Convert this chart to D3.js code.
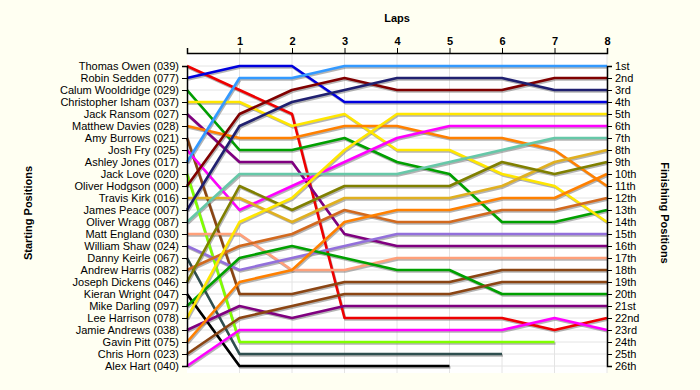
<!DOCTYPE html>
<html>
<head>
<meta charset="utf-8">
<script src="https://cdn.jsdelivr.net/npm/d3@7"></script>
<style>
  body { margin: 0; background: #fffff2; }
  text { font-family: Arial, "Liberation Sans", sans-serif; }
</style>
</head>
<body>
<div id="chart"></div>
<script>
// Drivers in starting order
const drivers = [
  "Thomas Owen (039)", "Robin Sedden (077)", "Calum Wooldridge (029)", "Christopher Isham (037)",
  "Jack Ransom (027)", "Matthew Davies (028)", "Amy Burrows (021)", "Josh Fry (025)",
  "Ashley Jones (017)", "Jack Love (020)", "Oliver Hodgson (000)", "Travis Kirk (016)",
  "James Peace (007)", "Oliver Wragg (087)", "Matt England (030)", "William Shaw (024)",
  "Danny Keirle (067)", "Andrew Harris (082)", "Joseph Dickens (046)", "Kieran Wright (047)",
  "Mike Darling (097)", "Lee Harrison (078)", "Jamie Andrews (038)", "Gavin Pitt (075)",
  "Chris Horn (023)", "Alex Hart (040)"
];

const colors = [
  "#ee0000", "#0000dd", "#00a000", "#ffe600", "#800080", "#ff8000", "#8b4513", "#ff00ff",
  "#3399ff", "#80ff00", "#800000", "#e0b020", "#202070", "#66c8a8", "#ffa07a", "#9370db",
  "#2f4f4f", "#d2691e", "#808000", "#000000", "#00a000", "#ffe600", "#800080", "#ff8000",
  "#8b4513", "#ff00ff"
];

// Position of each driver at lap 0..8 (shorter arrays = retired)
const positions = [
  [1, 3, 5, 22, 22, 22, 22, 23, 22],
  [2, 1, 1, 4, 4, 4, 4, 4, 4],
  [3, 8, 8, 7, 9, 10, 14, 14, 13],
  [4, 4, 6, 5, 8, 8, 10, 11, 14],
  [5, 9, 9, 15, 16, 16, 16, 16, 16],
  [6, 7, 7, 6, 6, 7, 7, 8, 11],
  [7, 20, 20, 19, 19, 19, 18, 18, 18],
  [8, 13, 11, 9, 7, 6, 6, 6, 6],
  [9, 2, 2, 1, 1, 1, 1, 1, 1],
  [10, 24, 24, 24, 24, 24, 24, 24],
  [11, 5, 3, 2, 3, 3, 3, 2, 2],
  [12, 12, 14, 12, 12, 12, 11, 9, 8],
  [13, 6, 4, 3, 2, 2, 2, 3, 3],
  [14, 10, 10, 10, 10, 9, 8, 7, 7],
  [15, 15, 18, 18, 17, 17, 17, 17, 17],
  [16, 18, 17, 16, 15, 15, 15, 15, 15],
  [17, 25, 25, 25, 25, 25, 25],
  [18, 16, 15, 13, 14, 14, 13, 13, 12],
  [19, 11, 13, 11, 11, 11, 9, 10, 9],
  [20, 26, 26, 26, 26, 26],
  [21, 17, 16, 17, 18, 18, 20, 20, 20],
  [22, 14, 12, 8, 5, 5, 5, 5, 5],
  [23, 21, 22, 21, 21, 21, 21, 21, 21],
  [24, 19, 18, 14, 13, 13, 12, 12, 10],
  [25, 22, 21, 20, 20, 20, 19, 19, 19],
  [26, 23, 23, 23, 23, 23, 23, 22, 23]
];

const laps = [0, 1, 2, 3, 4, 5, 6, 7, 8];
const lapLabels = ["", "1", "2", "3", "4", "5", "6", "7", "8"];
const finishLabels = [
  "1st", "2nd", "3rd", "4th", "5th", "6th", "7th", "8th", "9th", "10th", "11th", "12th", "13th",
  "14th", "15th", "16th", "17th", "18th", "19th", "20th", "21st", "22nd", "23rd", "24th", "25th", "26th"
];

const margin = { top: 53, right: 93, bottom: 17, left: 187 };
const width = 700 - margin.left - margin.right;
const height = 390 - margin.top - margin.bottom;

const svg = d3.select("#chart")
    .append("svg")
    .attr("width", 700)
    .attr("height", 390);

const g = svg.append("g")
    .attr("transform", `translate(${margin.left},${margin.top})`);

const x = d3.scaleLinear().domain([0, 8]).range([0, width]);
const y = d3.scaleLinear().domain([1, 26]).range([13, 313]);
const posList = d3.range(1, 27);

// plot background
g.append("rect")
    .attr("width", width)
    .attr("height", height)
    .attr("fill", "#ffffff");

// grid
g.selectAll(".hgrid")
    .data(posList)
    .enter().append("line")
    .attr("x1", 0).attr("x2", width)
    .attr("y1", d => y(d)).attr("y2", d => y(d))
    .attr("stroke", "#e4e4e4");

g.selectAll(".vgrid")
    .data(laps.slice(1))
    .enter().append("line")
    .attr("x1", d => x(d)).attr("x2", d => x(d))
    .attr("y1", 0).attr("y2", height)
    .attr("stroke", "#e4e4e4");

// lines
const line = d3.line()
    .x((d, i) => x(laps[i]))
    .y(d => y(d));

g.selectAll(".shadow")
    .data(positions)
    .enter().append("path")
    .attr("d", line)
    .attr("fill", "none")
    .attr("stroke", "#777")
    .attr("stroke-opacity", 0.55)
    .attr("stroke-width", 2.5)
    .attr("transform", "translate(1,1.5)");

g.selectAll(".lap-line")
    .data(positions)
    .enter().append("path")
    .attr("class", "lap-line")
    .attr("d", line)
    .attr("fill", "none")
    .attr("stroke", (d, i) => colors[i])
    .attr("stroke-width", 2.6)
    .attr("stroke-linejoin", "round");

// axes
const leftAxis = d3.axisLeft(y)
    .tickValues(posList)
    .tickSize(5)
    .tickFormat(d => drivers[d - 1]);

const rightAxis = d3.axisRight(y)
    .tickValues(posList)
    .tickSize(5)
    .tickFormat(d => finishLabels[d - 1]);

const topAxis = d3.axisTop(x)
    .tickValues(laps)
    .tickSize(5)
    .tickFormat(d => lapLabels[d]);

g.append("g")
    .attr("class", "axis")
    .call(leftAxis)
    .call(a => a.selectAll("text").attr("x", -8));

g.append("g")
    .attr("class", "axis")
    .attr("transform", `translate(${width},0)`)
    .call(rightAxis)
    .call(a => a.selectAll("text").attr("x", 8));

g.append("g")
    .attr("class", "axis top")
    .call(topAxis)
    .call(a => a.selectAll("text").attr("font-weight", "bold"));

svg.selectAll(".axis path.domain").attr("stroke", "#000").attr("stroke-width", 1.5);
svg.selectAll(".axis line").attr("stroke", "#000");
svg.selectAll(".axis text")
    .attr("fill", "#000")
    .attr("font-size", 11)
    .attr("font-family", "Arial, 'Liberation Sans', sans-serif");

// titles
svg.append("text")
    .attr("x", margin.left + width / 2)
    .attr("y", 22)
    .attr("text-anchor", "middle")
    .attr("font-size", 11)
    .attr("font-weight", "bold")
    .text("Laps");

svg.append("text")
    .attr("transform", `translate(32,${margin.top + height / 2}) rotate(-90)`)
    .attr("text-anchor", "middle")
    .attr("font-size", 11)
    .attr("font-weight", "bold")
    .text("Starting Positions");

svg.append("text")
    .attr("transform", `translate(661,${margin.top + height / 2}) rotate(90)`)
    .attr("text-anchor", "middle")
    .attr("font-size", 11)
    .attr("font-weight", "bold")
    .text("Finishing Positions");
</script>
</body>
</html>
